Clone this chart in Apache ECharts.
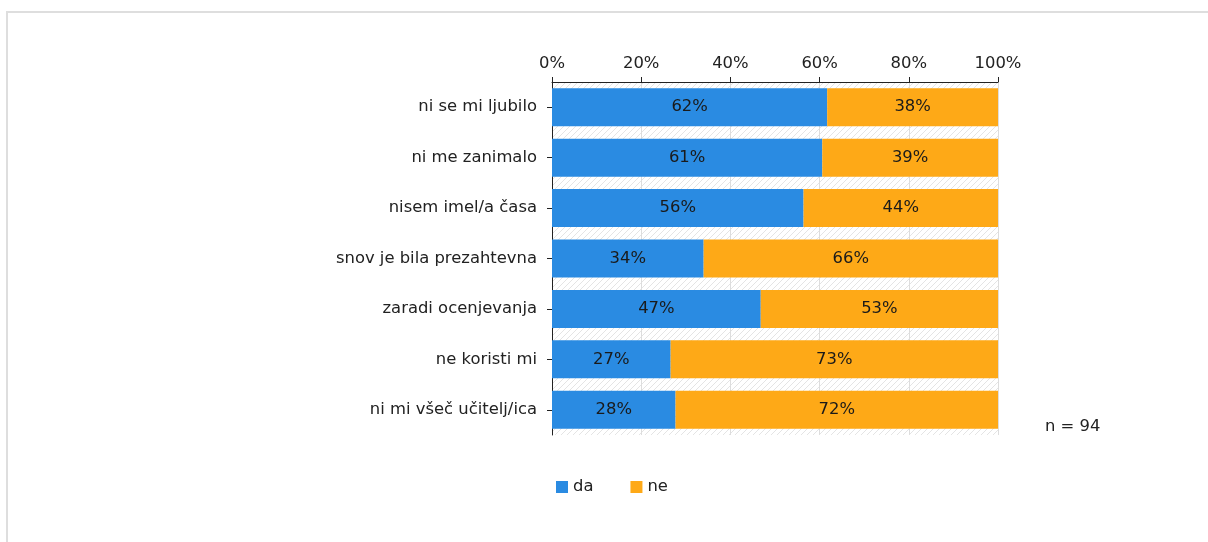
<!DOCTYPE html>
<html>
<head>
<meta charset="utf-8">
<script src="https://cdn.jsdelivr.net/npm/echarts@6/dist/echarts.min.js"></script>
<style>
	html, body { margin: 0; padding: 0; background: #fff; }
	#frame { position: absolute; left: 6px; top: 11px; width: 1220px; height: 560px; border: 2px solid #dedede; }
	#chart { position: absolute; left: 0; top: 0; width: 1208px; height: 542px; }
</style>
</head>
<body>
<div id="frame"></div>
<div id="chart"></div>
<script>
var categories = ['ni se mi ljubilo', 'ni me zanimalo', 'nisem imel/a časa', 'snov je bila prezahtevna', 'zaradi ocenjevanja', 'ne koristi mi', 'ni mi všeč učitelj/ica'];
var daValues = [61.7, 60.6, 56.4, 34.0, 46.8, 26.6, 27.7];
var neValues = [38.3, 39.4, 43.6, 66.0, 53.2, 73.4, 72.3];
var seriesNames = ['da', 'ne'];
var sampleNote = 'n = 94';

// hatched background for the plot area
function hatch() {
	var c = document.createElement('canvas');
	c.width = 6;
	c.height = 6;
	var ctx = c.getContext('2d');
	ctx.strokeStyle = '#e4e4e4';
	ctx.lineWidth = 1;
	ctx.beginPath();
	ctx.moveTo(0, 6);
	ctx.lineTo(6, 0);
	ctx.stroke();
	return c;
}

var font = 'DejaVu Sans';
var fs = 16.4;
var chart = echarts.init(document.getElementById('chart'));

function barSeries(name, values, color) {
	return {
		name: name,
		type: 'bar',
		stack: 'total',
		barWidth: 38,
		data: values,
		itemStyle: { color: color },
		label: {
			show: true,
			position: 'inside',
			color: '#1a1a1a',
			fontFamily: font,
			fontSize: fs,
			formatter: function(p) { return Math.round(p.value) + '%'; }
		}
	};
}

chart.setOption({
	animation: false,
	grid: {
		left: 552,
		right: 210,
		top: 82,
		bottom: 107,
		show: true,
		borderWidth: 0,
		backgroundColor: { image: hatch(), repeat: 'repeat' }
	},
	legend: {
		left: 551,
		top: 474,
		itemWidth: 12,
		itemHeight: 12,
		itemGap: 37,
		icon: 'rect',
		textStyle: { fontFamily: font, fontSize: fs, color: '#222' },
		data: seriesNames
	},
	xAxis: {
		type: 'value',
		position: 'top',
		min: 0,
		max: 100,
		interval: 20,
		axisLine: { show: true, lineStyle: { color: '#222' } },
		axisTick: { show: true, length: 5, lineStyle: { color: '#222' } },
		axisLabel: { formatter: '{value}%', fontFamily: font, fontSize: fs, color: '#222', margin: 10 },
		splitLine: { show: true, lineStyle: { color: '#dddddd' } }
	},
	yAxis: {
		type: 'category',
		inverse: true,
		data: categories,
		axisLine: { show: true, lineStyle: { color: '#222' } },
		axisTick: { show: true, alignWithLabel: true, length: 5, lineStyle: { color: '#222' } },
		axisLabel: { fontFamily: font, fontSize: fs, color: '#222', margin: 15 }
	},
	series: [
		barSeries(seriesNames[0], daValues, '#2a8be2'),
		barSeries(seriesNames[1], neValues, '#fea917')
	],
	graphic: [{
		type: 'text',
		left: 1045,
		top: 419,
		style: { text: sampleNote, font: fs + 'px "DejaVu Sans"', fill: '#222' }
	}]
});
</script>
</body>
</html>
